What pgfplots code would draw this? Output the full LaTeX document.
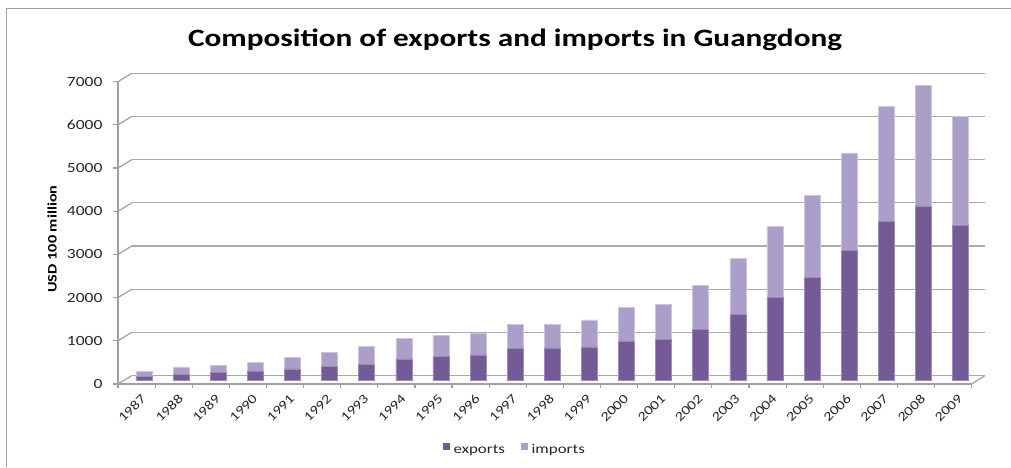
\documentclass[border=0pt]{standalone}
\usepackage{fontspec}
\setmainfont{Carlito}[FakeStretch=1.25]
\usepackage{pgfplots}
\usepackage{pgfplotstable}
\pgfplotsset{compat=1.18}
\definecolor{expc}{RGB}{116,91,152}
\definecolor{impc}{RGB}{171,158,200}
\definecolor{gridc}{RGB}{170,170,170}
\definecolor{axc}{RGB}{160,160,160}

\pgfplotstableread{
idx ex im
0 100 105
1 140 175
2 180 175
3 222 197
4 271 258
5 334 324
6 374 410
7 502 464
8 566 474
9 594 505
10 746 555
11 756 542
12 777 627
13 919 782
14 954 811
15 1185 1026
16 1529 1306
17 1916 1655
18 2382 1898
19 3020 2252
20 3692 2648
21 4042 2793
22 3590 2521
}\data

\begin{document}
\begin{tikzpicture}[x=1pt,y=1pt]
\path[use as bounding box] (0,0) rectangle (1011,467);
\draw[gray!75, line width=1pt] (6.5,0) -- (6.5,458) -- (1011,458);

% back wall gridlines
\begin{axis}[at={(131.7pt,91.5pt)}, anchor=south west, scale only axis,
  width=853.3pt, height=302.2pt, xmin=0, xmax=1, ymin=0, ymax=7000,
  ytick={0,1000,...,7000}, xtick=\empty, yticklabels={},
  ymajorgrids, major grid style={gridc, line width=1.3pt},
  axis line style={draw=none}, tick style={draw=none}]
\addplot[draw=none] coordinates {(0,0)};
\end{axis}

% front axis with bars
\begin{axis}[at={(118pt,83pt)}, anchor=south west, scale only axis,
  width=853.7pt, height=302.3pt, xmin=-0.7, xmax=22.3, ymin=0, ymax=7000,
  clip=false,
  axis x line=bottom, axis y line=left,
  axis line style={-, axc, line width=1.2pt},
  ytick={0,1000,...,7000},
  tick align=outside, major tick length=5pt, minor tick length=4pt,
  tick style={axc, line width=1.2pt},
  xtick={0,...,22},
  xticklabels={1987,1988,1989,1990,1991,1992,1993,1994,1995,1996,1997,1998,1999,2000,2001,2002,2003,2004,2005,2006,2007,2008,2009},
  every major x tick/.append style={draw=none},
  minor xtick={-0.7,0.3,1.3,2.3,3.3,4.3,5.3,6.3,7.3,8.3,9.3,10.3,11.3,12.3,13.3,14.3,15.3,16.3,17.3,18.3,19.3,20.3,21.3,22.3},
  /pgf/number format/assume math mode=true,
  /pgf/number format/set thousands separator={},
  yticklabel style={font=\fontsize{14}{14}\selectfont, text=black!85, xshift=-7pt},
  xticklabel style={font=\fontsize{13}{13}\selectfont, text=black!85, rotate=45, anchor=east, xshift=-2pt, yshift=-5pt},
  ybar stacked, bar width=16pt,
  legend columns=2,
  legend style={at={(0.465,-0.218)}, anchor=center, draw=none, fill=none,
    font=\fontsize{13.5}{13.5}\selectfont, text=black!85,
    /tikz/every even column/.append style={column sep=14pt},
    /tikz/every odd column/.append style={column sep=2pt}},
]
\addplot[fill=expc, draw=expc!70!white, line width=0.6pt, yshift=3.5pt,
  legend image code/.code={\fill[expc] (0pt,-3pt) rectangle (6pt,3pt);}]
  table[x=idx, y=ex] {\data};
\addplot[fill=impc, draw=impc!60!white, line width=0.6pt, yshift=3.5pt,
  legend image code/.code={\fill[impc] (0pt,-3pt) rectangle (6pt,3pt);}]
  table[x=idx, y=im] {\data};
\legend{exports, imports}
\pgfplotsinvokeforeach{0,1000,2000,3000,4000,5000,6000,7000}{
  \draw[axc, line width=1.2pt] (axis cs:-0.7,#1) -- ++(13.7pt,8.4pt);
}
\draw[axc, line width=1.2pt] (axis cs:22.3,0) -- ++(13.3pt,8.4pt);
\end{axis}

\node[font=\bfseries\fontsize{25}{25}\selectfont] at (515,427) {Composition of exports and imports in Guangdong};
\node[rotate=90, font=\bfseries\fontsize{13}{13}\selectfont] at (52,228) {USD 100 million};
\end{tikzpicture}
\end{document}
